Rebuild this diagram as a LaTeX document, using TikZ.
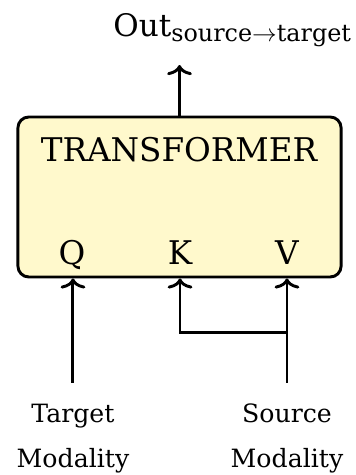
\documentclass[tikz,border=0pt]{standalone}
\usepackage{amsmath}
\usepackage{fontspec}
\setmainfont{DejaVu Serif}
\usetikzlibrary{positioning,arrows.meta}

\definecolor{boxfill}{RGB}{255,249,204}

\begin{document}
\begin{tikzpicture}[
      every node/.style={
        inner sep=0pt
      },
      block/.style={
        draw,
        fill=boxfill,
        line width=1.3pt,
        rounded corners=0.17cm,
        minimum width=5.05cm,
        minimum height=2.5cm
      },
      big/.style={
        font=\fontsize{14.5}{17}\selectfont
      },
      modal/.style={
        align=center,
        inner ysep=9pt,
        font=\fontsize{11.2}{20}\selectfont
      },
      arr/.style={
        line width=1.3pt,
        -{To[length=4.5pt,width=11pt]}
      }
    ]
      \useasboundingbox (0,0) rectangle (5.547,-7.422);

      \node[block] (box) at (2.805,-3.078) {};

      \node[big, anchor=base] (title) at (2.797,-2.531) {TRANSFORMER};

      \node[big, anchor=base] (q) at (1.125,-4.14) {Q};
      \node[big, anchor=base] (k) at (2.813,-4.14) {K};
      \node[big, anchor=base] (v) at (4.484,-4.14) {V};

      \node[anchor=base west, font=\fontsize{13.8}{16}\selectfont] (out)
        at (1.766,-0.578)
        {Out\raisebox{-0.16em}{\fontsize{10.6}{12}\selectfont source$\rightarrow$target}};
      \coordinate (outtip) at (2.805,-1.016);

      \node[modal, anchor=north] (tgt) at (1.14,-5.984) {Target\\Modality};
      \node[modal, anchor=north] (src) at (4.484,-5.984) {Source\\Modality};
      \coordinate (kj) at (4.484,-5.19);

      \draw[arr] (box.north) -- (outtip);

      \draw[arr] (tgt.north) -- (tgt.north |- box.south);
      \draw[arr] (src.north) -- (src.north |- box.south);
      \draw[arr] (kj) -| (k.south |- box.south);
    \end{tikzpicture}
\end{document}
